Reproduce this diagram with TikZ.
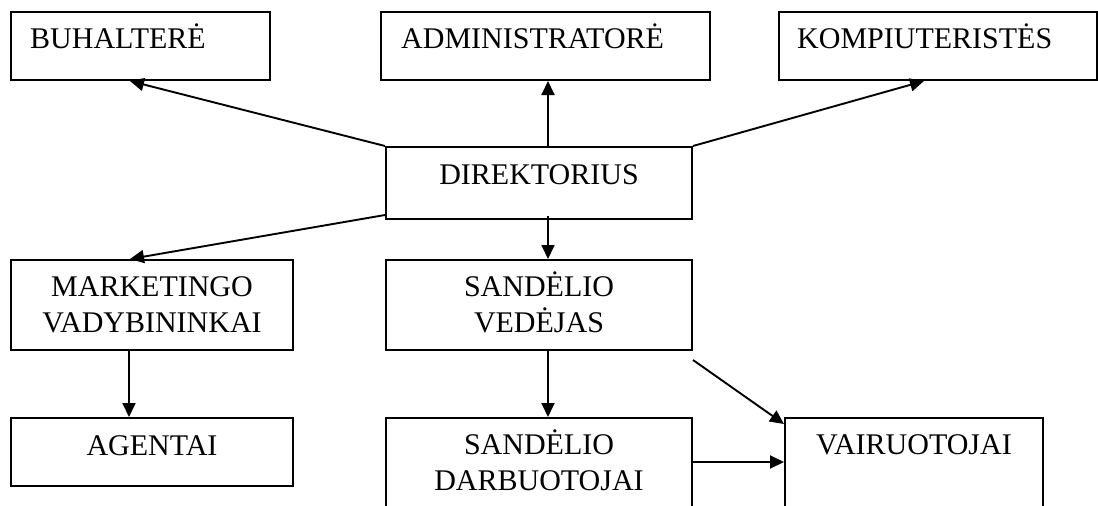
\documentclass[tikz,border=0pt]{standalone}
\usepackage{fontspec}
\setmainfont{Liberation Serif}
\usetikzlibrary{arrows.meta,calc}

\tikzset{
  unitbox/.style={draw, line width=2pt, rectangle, inner sep=0pt},
  boxtext/.style={anchor=base, inner sep=0pt, align=center,
    font=\fontsize{30}{36}\selectfont},
  lefttext/.style={anchor=base west, inner sep=0pt,
    font=\fontsize{30}{36}\selectfont},
  link/.style={line width=1.9pt, -{Triangle[length=14pt,width=13pt]}}
}

\begin{document}
\begin{tikzpicture}[x=1pt, y=-1pt]
  \useasboundingbox (0,0) rectangle (1098,506);
  \clip (0,0) rectangle (1098,506);

  % top row
  \node[unitbox, minimum width=259pt, minimum height=68pt] (buh) at (140.5,46) {};
  \node[unitbox, minimum width=329pt, minimum height=68pt] (adm) at (545.5,46) {};
  \node[unitbox, minimum width=318pt, minimum height=68pt] (komp) at (938,46) {};
  \node[lefttext] (buht) at ($(buh.north west)+(20,37.5)$) {BUHALTERĖ};
  \node[lefttext] (admt) at ($(adm.north west)+(21,37.5)$) {ADMINISTRATORĖ};
  \node[lefttext] (kompt) at ($(komp.north west)+(19,37.5)$) {KOMPIUTERISTĖS};

  % director
  \node[unitbox, minimum width=306pt, minimum height=72pt] (dir) at (539,183) {};
  \node[boxtext] (dirt) at ($(dir.north)+(0,38)$) {DIREKTORIUS};

  % middle row (base anchor of a two-line node sits on its last line)
  \node[unitbox, minimum width=282pt, minimum height=90pt] (mark) at (152,305) {};
  \node[boxtext] (markt) at ($(mark.north)+(0,73)$) {MARKETINGO\\VADYBININKAI};
  \node[unitbox, minimum width=306pt, minimum height=90pt] (sv) at (539,305) {};
  \node[boxtext] (svt) at ($(sv.north)+(0,73.5)$) {SANDĖLIO\\VEDĖJAS};

  % bottom row
  \node[unitbox, minimum width=282pt, minimum height=68pt] (ag) at (152,452) {};
  \node[boxtext] (agt) at ($(ag.north)+(0,38)$) {AGENTAI};
  \node[unitbox, minimum width=306pt, minimum height=110pt] (sd) at (539,473) {};
  \node[boxtext] (sdt) at ($(sd.north)+(0,73)$) {SANDĖLIO\\DARBUOTOJAI};
  \node[unitbox, minimum width=258pt, minimum height=110pt] (vair) at (914,473) {};
  \node[boxtext] (vairt) at ($(vair.north)+(0,37.5)$) {VAIRUOTOJAI};

  % vertical spine of the central column
  \coordinate (spine) at (548,0);

  % connectors
  \draw[link] (dir.north west) -- ([xshift=-10.5pt]buh.south);
  \draw[link] (dir.north -| spine) -- (adm.south -| spine);
  \draw[link] (dir.north east) -- ([xshift=146pt]komp.south west);
  \draw[link] ([yshift=5pt]dir.south west) -- ([xshift=-22pt]mark.north);
  \draw[link] ([yshift=4pt]dir.south -| spine) -- (sv.north -| spine);
  \draw[link] (sv.south -| spine) -- (sd.north -| spine);
  \draw[link] ([xshift=-23pt]mark.south) -- ([xshift=-23pt]ag.north);
  \draw[link] ([yshift=-9pt]sv.south east) -- ([yshift=-7pt]vair.north west);
  \draw[link] ([yshift=-45pt]sd.north east) -- ([yshift=-45pt]vair.north west);
\end{tikzpicture}
\end{document}
